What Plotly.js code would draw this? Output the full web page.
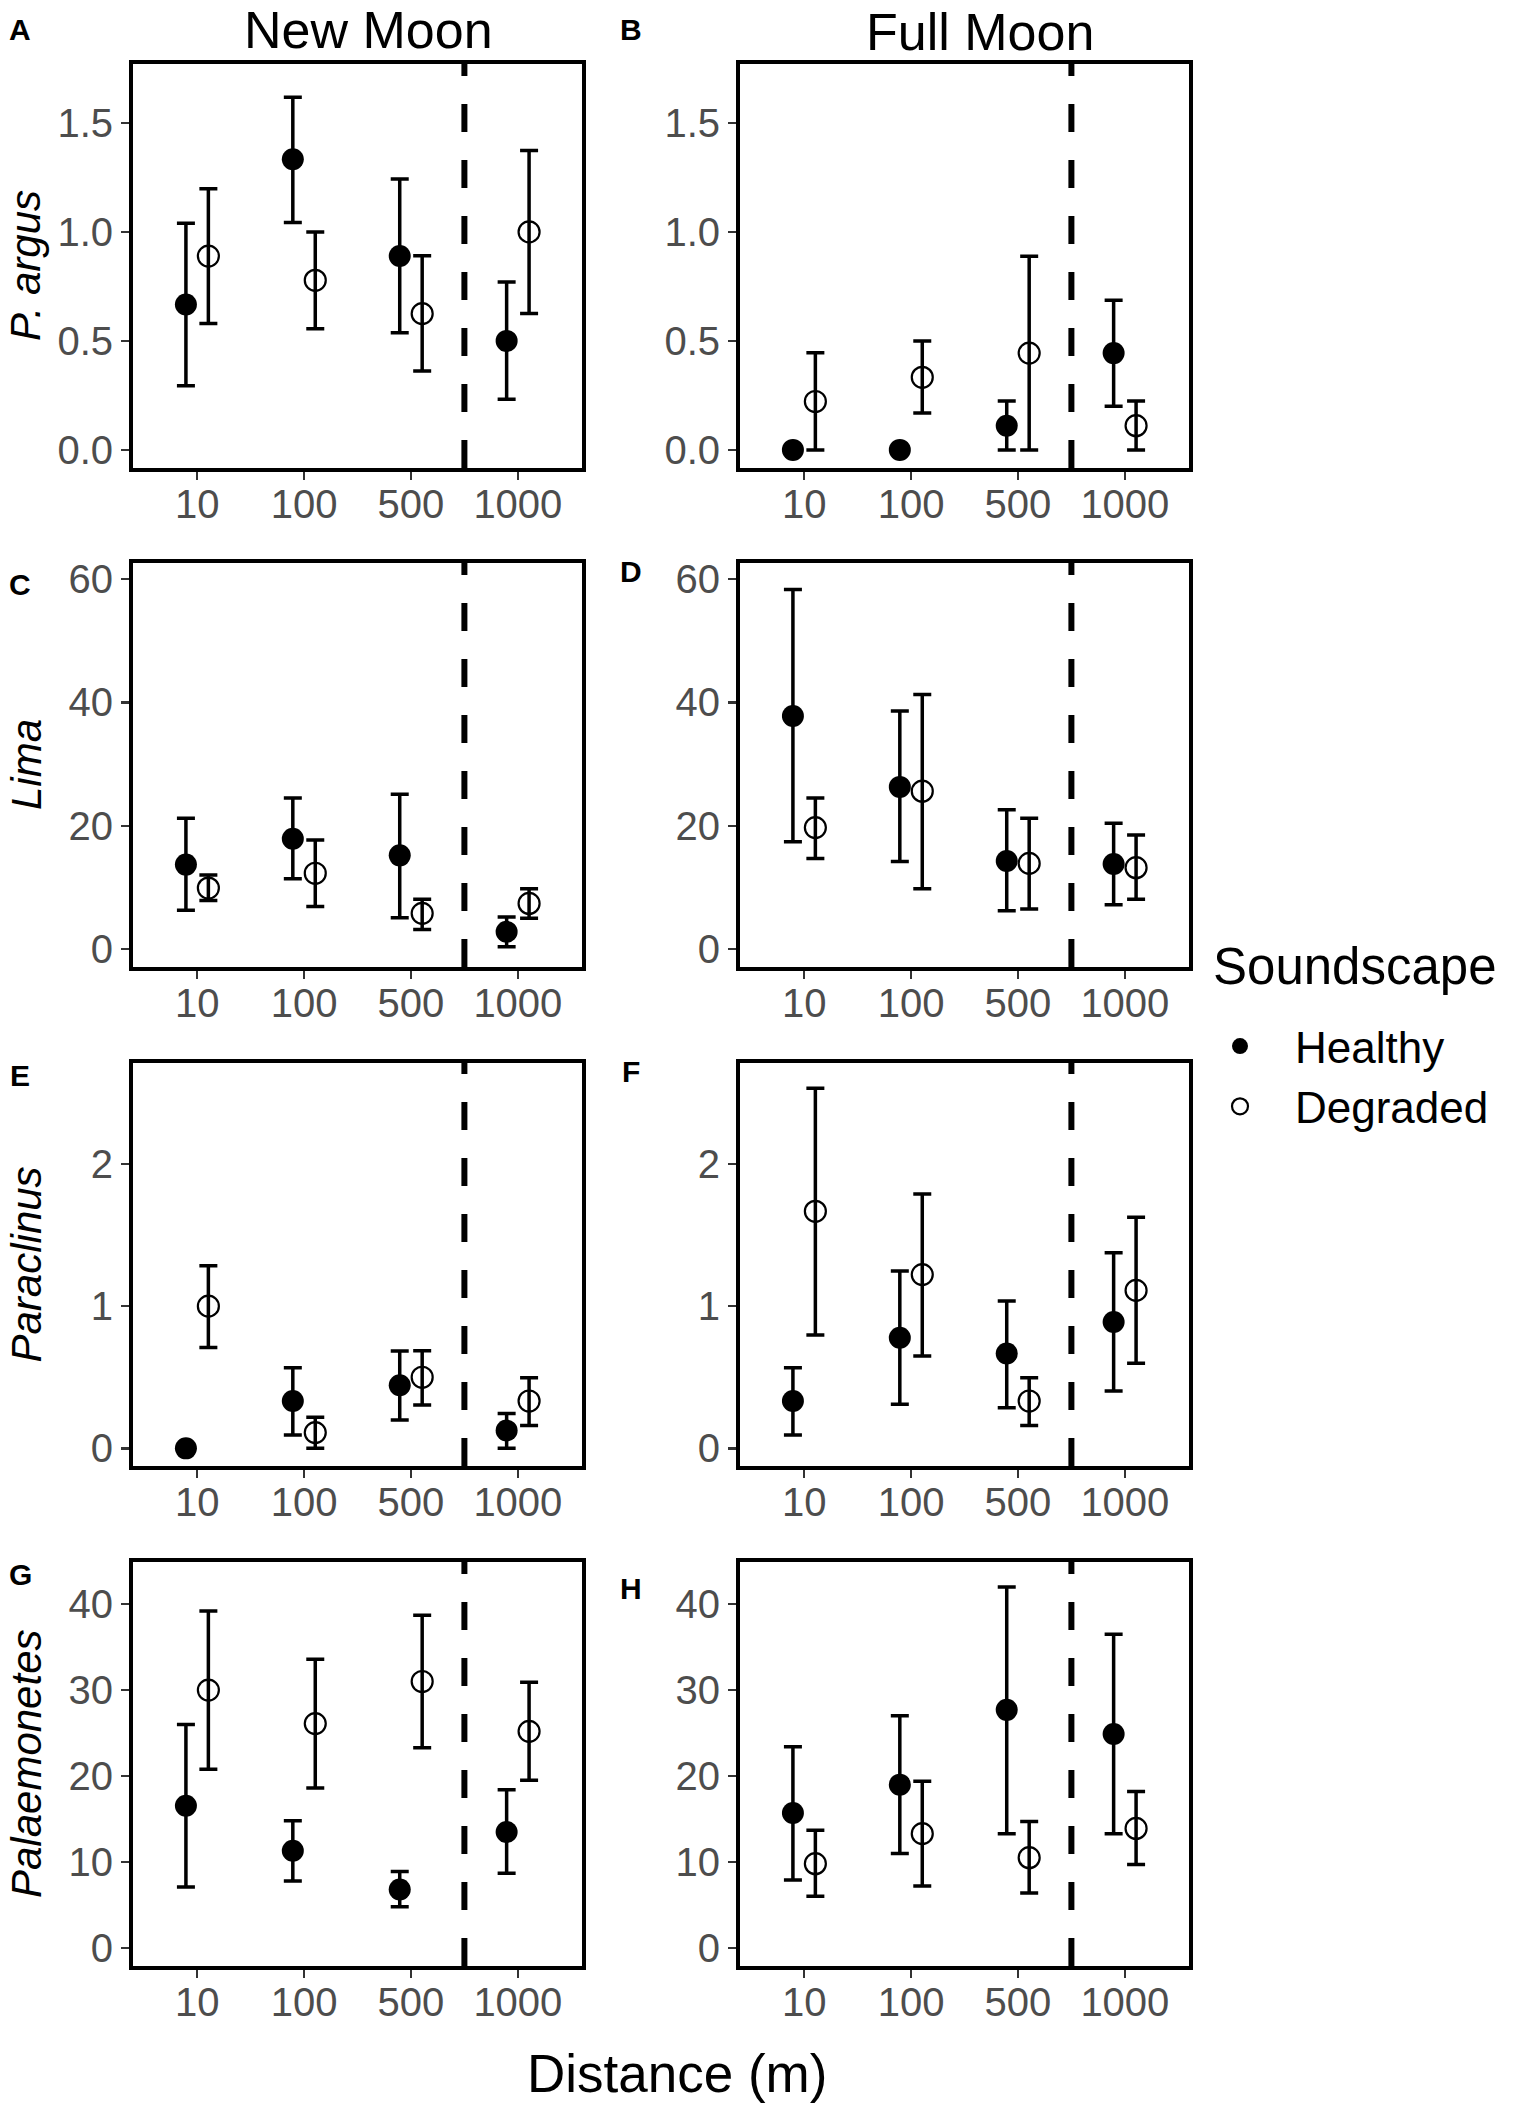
<!DOCTYPE html>
<html>
<head>
<meta charset="utf-8">
<script src="https://cdn.plot.ly/plotly-3.0.1.min.js"></script>
<style>html,body{margin:0;padding:0;background:#fff;}</style>
</head>
<body>
<div id="chart" style="width:1514px;height:2106px;"></div>
<script>
// ---------------- data ----------------
const distances = ['10', '100', '500', '1000'];
const seriesNames = ['Healthy', 'Degraded'];
const moonPhases = ['New Moon', 'Full Moon'];
const species = ['P. argus', 'Lima', 'Paraclinus', 'Palaemonetes'];
const panelLetters = ['A', 'B', 'C', 'D', 'E', 'F', 'G', 'H'];
const legendTitle = 'Soundscape';

// P. argus – New Moon
const argusNewHealthy   = [0.667, 1.333, 0.889, 0.500];
const argusNewHealthyLo = [0.294, 1.043, 0.537, 0.232];
const argusNewHealthyHi = [1.040, 1.618, 1.242, 0.770];
const argusNewDegraded   = [0.889, 0.778, 0.625, 1.000];
const argusNewDegradedLo = [0.580, 0.556, 0.362, 0.626];
const argusNewDegradedHi = [1.198, 1.000, 0.890, 1.373];
// P. argus – Full Moon
const argusFullHealthy   = [0.000, 0.000, 0.111, 0.444];
const argusFullHealthyLo = [0.000, 0.000, 0.000, 0.200];
const argusFullHealthyHi = [0.000, 0.000, 0.224, 0.686];
const argusFullDegraded   = [0.222, 0.333, 0.444, 0.111];
const argusFullDegradedLo = [0.000, 0.169, 0.000, 0.000];
const argusFullDegradedHi = [0.446, 0.500, 0.888, 0.224];
// Lima – New Moon
const limaNewHealthy   = [13.7, 17.9, 15.2, 2.8];
const limaNewHealthyLo = [6.3, 11.4, 5.1, 0.4];
const limaNewHealthyHi = [21.2, 24.5, 25.1, 5.2];
const limaNewDegraded   = [9.9, 12.3, 5.8, 7.4];
const limaNewDegradedLo = [7.9, 6.9, 3.2, 5.0];
const limaNewDegradedHi = [12.0, 17.7, 8.1, 9.8];
// Lima – Full Moon
const limaFullHealthy   = [37.8, 26.3, 14.3, 13.8];
const limaFullHealthyLo = [17.4, 14.2, 6.2, 7.2];
const limaFullHealthyHi = [58.3, 38.6, 22.6, 20.4];
const limaFullDegraded   = [19.7, 25.6, 13.9, 13.2];
const limaFullDegradedLo = [14.7, 9.8, 6.5, 8.1];
const limaFullDegradedHi = [24.5, 41.3, 21.2, 18.5];
// Paraclinus – New Moon
const paraNewHealthy   = [0.000, 0.333, 0.444, 0.125];
const paraNewHealthyLo = [0.000, 0.094, 0.200, 0.000];
const paraNewHealthyHi = [0.000, 0.567, 0.685, 0.246];
const paraNewDegraded   = [1.000, 0.111, 0.500, 0.333];
const paraNewDegradedLo = [0.710, 0.000, 0.305, 0.160];
const paraNewDegradedHi = [1.285, 0.218, 0.687, 0.497];
// Paraclinus – Full Moon
const paraFullHealthy   = [0.333, 0.778, 0.667, 0.889];
const paraFullHealthyLo = [0.094, 0.310, 0.286, 0.403];
const paraFullHealthyHi = [0.567, 1.247, 1.036, 1.376];
const paraFullDegraded   = [1.667, 1.222, 0.333, 1.111];
const paraFullDegradedLo = [0.797, 0.649, 0.160, 0.598];
const paraFullDegradedHi = [2.532, 1.789, 0.497, 1.625];
// Palaemonetes – New Moon
const palaNewHealthy   = [16.55, 11.3, 6.8, 13.5];
const palaNewHealthyLo = [7.1, 7.8, 4.8, 8.7];
const palaNewHealthyHi = [26.0, 14.8, 8.9, 18.4];
const palaNewDegraded   = [30.0, 26.1, 31.0, 25.2];
const palaNewDegradedLo = [20.8, 18.6, 23.3, 19.5];
const palaNewDegradedHi = [39.2, 33.6, 38.7, 30.9];
// Palaemonetes – Full Moon
const palaFullHealthy   = [15.7, 19.0, 27.7, 24.9];
const palaFullHealthyLo = [7.9, 11.0, 13.3, 13.3];
const palaFullHealthyHi = [23.4, 27.0, 42.0, 36.5];
const palaFullDegraded   = [9.8, 13.3, 10.5, 13.9];
const palaFullDegradedLo = [6.0, 7.2, 6.4, 9.7];
const palaFullDegradedHi = [13.7, 19.4, 14.7, 18.2];

// y tick settings per species row
const rowTickVals = [[0, 0.5, 1, 1.5], [0, 20, 40, 60], [0, 1, 2], [0, 10, 20, 30, 40]];
const rowTickFormat = ['.1f', 'd', 'd', 'd'];

// ---------------- styling / layout ----------------
const FONT = 'Liberation Sans, Arial, sans-serif';
const W = 1514, H = 2106;
const colX = [[133, 582], [740, 1189]];
const rowY = [[64, 468], [563, 967], [1063, 1466], [1562, 1966]];
const rowRange = [[-0.083, 1.77], [-2.9, 62.6], [-0.124, 2.71], [-2.1, 44.9]];
const dodge = 0.105;

const panels = [
  [argusNewHealthy, argusNewHealthyLo, argusNewHealthyHi, argusNewDegraded, argusNewDegradedLo, argusNewDegradedHi],
  [argusFullHealthy, argusFullHealthyLo, argusFullHealthyHi, argusFullDegraded, argusFullDegradedLo, argusFullDegradedHi],
  [limaNewHealthy, limaNewHealthyLo, limaNewHealthyHi, limaNewDegraded, limaNewDegradedLo, limaNewDegradedHi],
  [limaFullHealthy, limaFullHealthyLo, limaFullHealthyHi, limaFullDegraded, limaFullDegradedLo, limaFullDegradedHi],
  [paraNewHealthy, paraNewHealthyLo, paraNewHealthyHi, paraNewDegraded, paraNewDegradedLo, paraNewDegradedHi],
  [paraFullHealthy, paraFullHealthyLo, paraFullHealthyHi, paraFullDegraded, paraFullDegradedLo, paraFullDegradedHi],
  [palaNewHealthy, palaNewHealthyLo, palaNewHealthyHi, palaNewDegraded, palaNewDegradedLo, palaNewDegradedHi],
  [palaFullHealthy, palaFullHealthyLo, palaFullHealthyHi, palaFullDegraded, palaFullDegradedLo, palaFullDegradedHi]
];

const traces = [];
const layout = {
  width: W, height: H,
  margin: {l: 0, r: 0, t: 0, b: 0},
  paper_bgcolor: '#ffffff', plot_bgcolor: '#ffffff',
  font: {family: FONT, color: '#000000'},
  showlegend: true,
  legend: {
    x: 1185 / W, xanchor: 'left', y: 1 - 1011 / H, yanchor: 'top',
    font: {size: 44, family: FONT, color: '#000'},
    itemwidth: 100, tracegroupgap: 0, bgcolor: 'rgba(0,0,0,0)', borderwidth: 0
  },
  shapes: [], annotations: []
};

panels.forEach((p, k) => {
  const row = Math.floor(k / 2), col = k % 2;
  const id = k === 0 ? '' : String(k + 1);
  const xa = 'x' + id, ya = 'y' + id;
  const groups = [[p[0], p[1], p[2]], [p[3], p[4], p[5]]];
  groups.forEach((g, s) => {
    const [mean, lo, hi] = g;
    traces.push({
      type: 'scatter', mode: 'markers',
      name: seriesNames[s], legendgroup: seriesNames[s], showlegend: k === 0,
      xaxis: xa, yaxis: ya,
      x: distances.map((d, i) => i + 1 + (s === 0 ? -dodge : dodge)),
      y: mean,
      error_y: {
        type: 'data', symmetric: false,
        array: hi.map((v, i) => v - mean[i]),
        arrayminus: lo.map((v, i) => mean[i] - v),
        color: '#000000', thickness: 3.5, width: 9
      },
      marker: s === 0
        ? {symbol: 'circle', size: 22, color: '#000000', line: {width: 0}}
        : {symbol: 'circle-open', size: 21, color: '#000000', line: {width: 2.2, color: '#000000'}},
      hoverinfo: 'skip'
    });
  });
  layout['xaxis' + id] = {
    domain: [colX[col][0] / W, colX[col][1] / W],
    anchor: ya, range: [0.4, 4.6],
    tickmode: 'array', tickvals: [1, 2, 3, 4], ticktext: distances,
    ticks: 'outside', ticklen: 8, tickwidth: 2.5, tickcolor: '#333333',
    tickfont: {size: 40, color: '#4d4d4d', family: FONT},
    ticklabelstandoff: -10,
    showline: true, mirror: true, linewidth: 4, linecolor: '#000000',
    showgrid: false, zeroline: false, fixedrange: true
  };
  layout['yaxis' + id] = {
    domain: [1 - rowY[row][1] / H, 1 - rowY[row][0] / H],
    anchor: xa, range: rowRange[row],
    tickmode: 'array', tickvals: rowTickVals[row],
    tickformat: rowTickFormat[row],
    ticks: 'outside', ticklen: 8, tickwidth: 2.5, tickcolor: '#333333',
    tickfont: {size: 40, color: '#4d4d4d', family: FONT},
    showline: true, mirror: true, linewidth: 4, linecolor: '#000000',
    showgrid: false, zeroline: false, fixedrange: true
  };
  layout.shapes.push({
    type: 'line', xref: xa, yref: ya + ' domain',
    x0: 3.5, x1: 3.5, y0: 0, y1: 1,
    line: {color: '#000000', width: 6, dash: '28px,28px'}
  });
});

// panel letters
const letterPos = [[20, 30], [631, 30], [20, 584], [631, 571], [20, 1075], [631, 1071], [20, 1574], [631, 1588]];
panelLetters.forEach((L, i) => {
  layout.annotations.push({
    text: '<b>' + L + '</b>', xref: 'paper', yref: 'paper',
    x: letterPos[i][0] / W, y: 1 - letterPos[i][1] / H,
    xanchor: 'center', yanchor: 'middle', showarrow: false,
    font: {size: 30, family: FONT, color: '#000'}
  });
});
// column titles
const colTitleX = [368, 980];
const colTitleY = [30, 32];
moonPhases.forEach((t, i) => {
  layout.annotations.push({
    text: t, xref: 'paper', yref: 'paper',
    x: colTitleX[i] / W, y: 1 - colTitleY[i] / H,
    xanchor: 'center', yanchor: 'middle', showarrow: false,
    font: {size: 52, family: FONT, color: '#000'}
  });
});
// row (species) titles
species.forEach((t, r) => {
  layout.annotations.push({
    text: '<i>' + t + '</i>', xref: 'paper', yref: 'paper',
    x: 26 / W, y: 1 - ((rowY[r][0] + rowY[r][1]) / 2) / H,
    xanchor: 'center', yanchor: 'middle', showarrow: false, textangle: -90,
    font: {size: 42, family: FONT, color: '#000'}
  });
});
// x axis title
layout.annotations.push({
  text: 'Distance (m)', xref: 'paper', yref: 'paper',
  x: 677 / W, y: 1 - 2073 / H, xanchor: 'center', yanchor: 'middle', showarrow: false,
  font: {size: 53, family: FONT, color: '#000'}
});
// legend title
layout.annotations.push({
  text: legendTitle, xref: 'paper', yref: 'paper',
  x: 1211 / W, y: 1 - 967 / H, xanchor: 'left', yanchor: 'middle', showarrow: false,
  font: {size: 51, family: FONT, color: '#000'}
});

Plotly.newPlot('chart', traces, layout, {displayModeBar: false, staticPlot: true});
</script>
</body>
</html>
